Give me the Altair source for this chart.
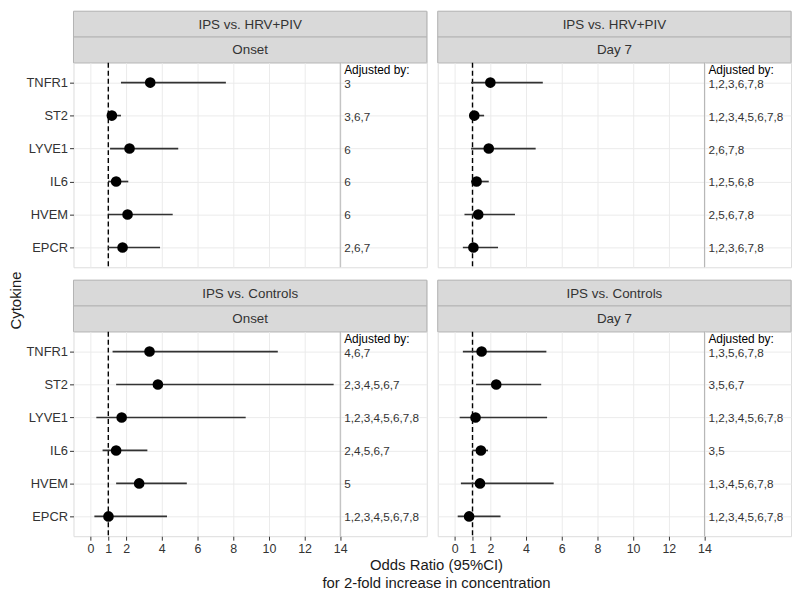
import altair as alt
import pandas as pd

cytokines = ["TNFR1", "ST2", "LYVE1", "IL6", "HVEM", "EPCR"]

# IPS vs. HRV+PIV, Onset
or_hrv_onset = [3.35, 1.20, 2.19, 1.44, 2.08, 1.80]
lo_hrv_onset = [1.71, 0.98, 1.10, 0.98, 1.01, 0.98]
hi_hrv_onset = [7.59, 1.71, 4.92, 2.12, 4.61, 3.90]
adj_hrv_onset = ["3", "3,6,7", "6", "6", "6", "2,6,7"]

# IPS vs. HRV+PIV, Day 7
or_hrv_d7 = [2.00, 1.10, 1.91, 1.23, 1.32, 1.05]
lo_hrv_d7 = [0.92, 0.81, 0.92, 0.92, 0.55, 0.46]
hi_hrv_d7 = [4.94, 1.65, 4.54, 1.91, 3.38, 2.43]
adj_hrv_d7 = ["1,2,3,6,7,8", "1,2,3,4,5,6,7,8", "2,6,7,8", "1,2,5,6,8", "2,5,6,7,8", "1,2,3,6,7,8"]

# IPS vs. Controls, Onset
or_ctl_onset = [3.31, 3.78, 1.75, 1.44, 2.73, 1.01]
lo_ctl_onset = [1.24, 1.44, 0.33, 0.68, 1.44, 0.22]
hi_ctl_onset = [10.50, 13.63, 8.70, 3.19, 5.40, 4.29]
adj_ctl_onset = ["4,6,7", "2,3,4,5,6,7", "1,2,3,4,5,6,7,8", "2,4,5,6,7", "5", "1,2,3,4,5,6,7,8"]

# IPS vs. Controls, Day 7
or_ctl_d7 = [1.51, 2.33, 1.17, 1.47, 1.42, 0.81]
lo_ctl_d7 = [0.46, 1.20, 0.28, 0.99, 0.35, 0.17]
hi_ctl_d7 = [5.14, 4.85, 5.18, 1.87, 5.55, 2.57]
adj_ctl_d7 = ["1,3,5,6,7,8", "3,5,6,7", "1,2,3,4,5,6,7,8", "3,5", "1,3,4,5,6,7,8", "1,2,3,4,5,6,7,8"]

x_breaks = [0, 1, 2, 4, 6, 8, 10, 12, 14]
adj_header = "Adjusted by:"
x_title = ["Odds Ratio (95%CI)", "for 2-fold increase in concentration"]
y_title = "Cytokine"

W = 356
PH = 206
SH = 26
XDOM = [-0.95, 18.85]
TEXT_X = 14.22
BORDER = "#b3b3b3"
FONT = "Liberation Sans"


def strip(label):
    df = pd.DataFrame({"label": [label]})
    base = alt.Chart(df).properties(width=W, height=SH)
    rect = base.mark_rect(fill="#d9d9d9", stroke=BORDER, strokeWidth=1).encode(
        x=alt.value(0), x2=alt.value(W), y=alt.value(0), y2=alt.value(SH)
    )
    txt = base.mark_text(fontSize=13.5, color="#333333", baseline="middle",
                         align="center", font=FONT).encode(
        x=alt.value(W / 2), y=alt.value(SH / 2 + 0.5), text="label:N"
    )
    return alt.layer(rect, txt)


def plot_panel(orv, lo, hi, adj, left, bottom):
    df = pd.DataFrame({"cytokine": cytokines, "or": orv, "lo": lo, "hi": hi, "adj": adj})
    xscale = alt.Scale(domain=XDOM, nice=False, zero=False)
    yscale = alt.Scale(type="point", domain=cytokines, padding=0.6)
    xaxis = alt.Axis(values=x_breaks, grid=True, title=None, domain=False,
                     labels=bottom, ticks=bottom, labelOverlap=False,
                     labelFontSize=12.5, labelColor="#333333", tickColor="#333333",
                     tickSize=4, labelPadding=2, gridColor="#ebebeb", labelFont=FONT)
    yaxis = alt.Axis(grid=True, title=None, domain=False, labels=left, ticks=left,
                     labelFontSize=13, labelColor="#333333", tickColor="#333333",
                     tickSize=4, labelPadding=2, gridColor="#ebebeb", labelFont=FONT)
    base = alt.Chart(df).properties(width=W, height=PH)

    ref = alt.Chart(pd.DataFrame({"x": [1]})).mark_rule(
        color="black", strokeDash=[5, 3], strokeWidth=1.4
    ).encode(x=alt.X("x:Q", scale=xscale, axis=xaxis))
    sep = alt.Chart(pd.DataFrame({"x": [14]})).mark_rule(
        color=BORDER, strokeWidth=1
    ).encode(x=alt.X("x:Q", scale=xscale, axis=xaxis))
    ci = base.mark_rule(color="#333333", strokeWidth=1.7).encode(
        x=alt.X("lo:Q", scale=xscale, axis=xaxis),
        x2="hi:Q",
        y=alt.Y("cytokine:N", scale=yscale, axis=yaxis),
    )
    pts = base.mark_circle(size=115, color="black", opacity=1).encode(
        x=alt.X("or:Q", scale=xscale, axis=xaxis),
        y=alt.Y("cytokine:N", scale=yscale, axis=yaxis),
    )
    txt = base.mark_text(align="left", baseline="middle", fontSize=11.8,
                         color="#333333", dy=1, font=FONT).encode(
        x=alt.XDatum(TEXT_X, type="quantitative", scale=xscale, axis=xaxis),
        y=alt.Y("cytokine:N", scale=yscale, axis=yaxis),
        text="adj:N",
    )
    hdr = alt.Chart(pd.DataFrame({"t": [adj_header]})).mark_text(
        align="left", baseline="middle", fontSize=12, color="black", font=FONT
    ).encode(
        x=alt.XDatum(TEXT_X, type="quantitative", scale=xscale, axis=xaxis),
        y=alt.value(7.5),
        text="t:N",
    )
    return alt.layer(ref, sep, ci, pts, txt, hdr)


def panel(comp, time, orv, lo, hi, adj, left, bottom):
    return alt.vconcat(strip(comp), strip(time),
                       plot_panel(orv, lo, hi, adj, left, bottom),
                       spacing=0, bounds="flush")


top = alt.hconcat(
    panel("IPS vs. HRV+PIV", "Onset", or_hrv_onset, lo_hrv_onset, hi_hrv_onset, adj_hrv_onset, True, False),
    panel("IPS vs. HRV+PIV", "Day 7", or_hrv_d7, lo_hrv_d7, hi_hrv_d7, adj_hrv_d7, False, False),
    spacing=9,
)
bot = alt.hconcat(
    panel("IPS vs. Controls", "Onset", or_ctl_onset, lo_ctl_onset, hi_ctl_onset, adj_ctl_onset, True, True),
    panel("IPS vs. Controls", "Day 7", or_ctl_d7, lo_ctl_d7, hi_ctl_d7, adj_ctl_d7, False, True),
    spacing=9,
)

inner = alt.vconcat(
    top, bot, spacing=10,
    title=alt.TitleParams(text=x_title, orient="bottom", anchor="middle",
                          fontSize=15, fontWeight="normal", color="#1a1a1a",
                          lineHeight=18, offset=3, dx=28, font=FONT),
)

chart = alt.hconcat(
    inner,
    title=alt.TitleParams(text=y_title, orient="left", anchor="middle",
                          fontSize=15, fontWeight="normal", color="#1a1a1a",
                          offset=2, font=FONT),
).properties(padding=0).configure_view(stroke=BORDER, strokeWidth=1).configure(font=FONT)

chart.save("out.html", embed_options={"renderer": "svg", "actions": False})
